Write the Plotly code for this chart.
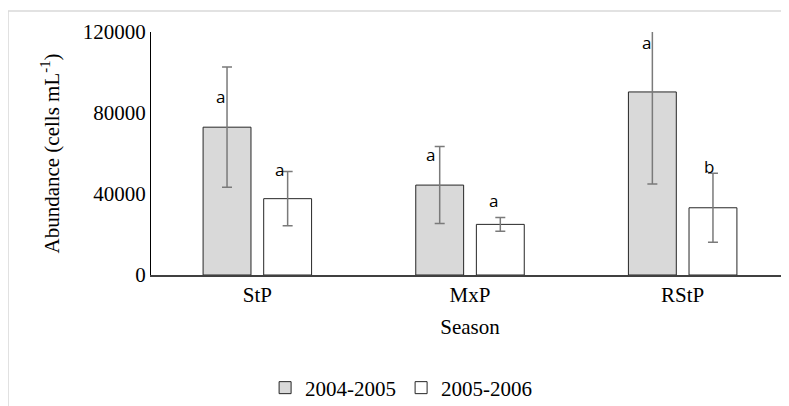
import plotly.graph_objects as go

# ---- data ----
categories = ["StP", "MxP", "RStP"]
series_names = ["2004-2005", "2005-2006"]
abund_0405 = [73000, 44400, 90400]
err_0405 = [29700, 19000, 45500]
abund_0506 = [37700, 25000, 33200]
err_0506 = [13400, 3400, 17000]
letters_0405 = ["a", "a", "a"]
letters_0506 = ["a", "a", "b"]
y_ticks = [0, 40000, 80000, 120000]

# ---- layout placement of significance letters (data units / pixel shifts) ----
letter_y_0405 = [88000, 59300, 114600]
letter_y_0506 = [51900, 37000, 53800]
shift_0405 = [-37, -40, -36]
shift_0506 = [22, 23, 26]

serif = "Liberation Serif, Times New Roman, serif"
FS = 21

fig = go.Figure()
fig.add_trace(go.Bar(
    x=categories, y=abund_0405, name=series_names[0],
    marker=dict(color="#d9d9d9", line=dict(color="#262626", width=1)),
    error_y=dict(type="data", array=err_0405, visible=True,
                 color="#7a7a7a", thickness=1.5, width=5),
))
fig.add_trace(go.Bar(
    x=categories, y=abund_0506, name=series_names[1],
    marker=dict(color="#ffffff", line=dict(color="#262626", width=1)),
    error_y=dict(type="data", array=err_0506, visible=True,
                 color="#7a7a7a", thickness=1.5, width=5),
))

annotations = []
for cat, lab, ly, sh in zip(categories, letters_0405, letter_y_0405, shift_0405):
    annotations.append(dict(x=cat, y=ly, text=lab, showarrow=False, xshift=sh,
                            yanchor="middle", font=dict(family="Open Sans", size=17, color="#000")))
for cat, lab, ly, sh in zip(categories, letters_0506, letter_y_0506, shift_0506):
    annotations.append(dict(x=cat, y=ly, text=lab, showarrow=False, xshift=sh,
                            yanchor="middle", font=dict(family="Open Sans", size=17, color="#000")))

fig.update_layout(
    width=789, height=406,
    margin=dict(l=143, r=8, t=24, b=139, autoexpand=False),
    paper_bgcolor="white", plot_bgcolor="white",
    barmode="group", bargap=0.43, bargroupgap=0.21,
    font=dict(family=serif, size=FS, color="#000"),
    showlegend=True,
    legend=dict(orientation="h", x=0.392, xanchor="center", y=-0.465, yanchor="middle",
                font=dict(family=serif, size=FS), itemwidth=30,
                bgcolor="rgba(0,0,0,0)"),
    annotations=annotations,
    shapes=[dict(type="rect", xref="paper", yref="paper",
                 x0=-0.2241, x1=1.05, y0=-0.7, y1=1.086,
                 line=dict(color="#d9d9d9", width=1.5), fillcolor="rgba(0,0,0,0)")],
    xaxis=dict(
        showline=True, linecolor="#404040", linewidth=1.5,
        ticks="", showgrid=False, zeroline=False,
        tickfont=dict(family=serif, size=FS),
        title=dict(text="Season", font=dict(family=serif, size=FS), standoff=13),
        range=[-0.5, 2.5],
    ),
    yaxis=dict(
        range=[0, 120000], tickvals=y_ticks, tickformat="d",
        showline=True, linecolor="#000", linewidth=1.2,
        ticks="", showgrid=False, zeroline=False,
        tickfont=dict(family=serif, size=FS),
        title=dict(text="Abundance (cells mL<sup>-1</sup>)",
                   font=dict(family=serif, size=FS), standoff=17),
    ),
)

fig.write_html("out.html")
